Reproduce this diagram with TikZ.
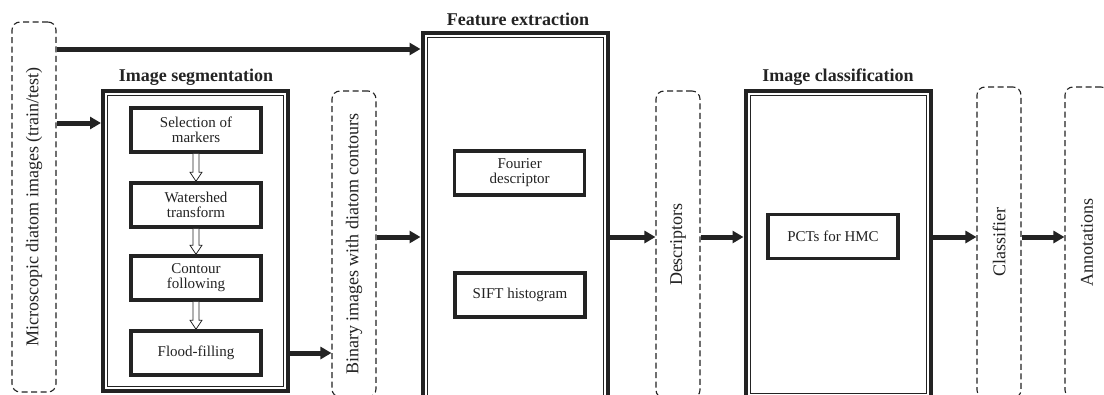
\documentclass[tikz,border=0pt]{standalone}
\usepackage{fontspec}
\setmainfont{Liberation Serif}
\usepackage{graphicx}
\usetikzlibrary{arrows.meta,calc}
\definecolor{ink}{RGB}{35,35,35}
\newcommand\hollowdown[2]{%
  \draw[hollow] ($(#1.south)+(-3pt,0pt)$) -- ($(#2.north)+(-3pt,9pt)$) -- ($(#2.north)+(-6pt,9pt)$) -- (#2.north) -- ($(#2.north)+(6pt,9pt)$) -- ($(#2.north)+(3pt,9pt)$) -- ($(#1.south)+(3pt,0pt)$);}
\newcommand\innerline[1]{%
  \draw[draw=ink, line width=0.8pt] ([shift={(6.5pt,-6.5pt)}]#1.north west) rectangle ([shift={(-6.5pt,6.5pt)}]#1.south east);}
\begin{document}
\begin{tikzpicture}[x=1pt,y=-1pt,
  stage/.style={draw=ink, line width=4pt, minimum width=185pt, inner sep=0pt},
  proc/.style={draw=ink, line width=3.5pt, minimum width=130pt, minimum height=44pt, inner sep=0pt, align=center, font=\fontsize{15}{15}\selectfont, text=ink},
  data/.style={draw=ink, line width=1.1pt, dash pattern=on 6pt off 3.5pt, rounded corners=8pt, minimum width=44pt, inner sep=0pt, font=\fontsize{18}{18}\selectfont, text=ink},
  ttl/.style={font=\bfseries\fontsize{18}{18}\selectfont, text=ink, anchor=base, inner sep=0pt},
  arr/.style={draw=ink, line width=5pt, -{Triangle[length=11pt,width=12pt]}},
  hollow/.style={draw=ink, line width=0.8pt, fill=white, line join=miter}
]
\useasboundingbox (0,0) rectangle (1104,394);
\clip (0,0) rectangle (1104,394);
\fill[white] (0,0) rectangle (1104,394);

% data (dashed) boxes
\node[data, minimum height=370pt] (A) at (34,207) {\rotatebox{90}{Microscopic diatom images (train/test)}};
\node[data, minimum height=306pt] (B) at (354,244) {\rotatebox{90}{Binary images with diatom contours}};
\node[data, minimum height=307pt] (D) at (678,244.5) {\rotatebox{90}{Descriptors}};
\node[data, minimum height=311pt] (C) at (999,242.5) {\rotatebox{90}{Classifier}};
\node[data, minimum height=311pt] (N) at (1087,242.5) {\rotatebox{90}{Annotations}};

% stage boxes
\node[stage, minimum height=300.5pt] (S) at (195.5,240.75) {};
\innerline{S}
\node[stage, minimum height=420pt] (F) at (515,243) {};
\innerline{F}
\node[stage, minimum height=307pt] (K) at (838,244) {};
\innerline{K}

% titles
\node[ttl] (tS) at (196,81) {Image segmentation};
\node[ttl] (tF) at (518,25) {Feature extraction};
\node[ttl] (tK) at (838,81) {Image classification};

% process boxes
\node[proc] (s1) at (196,130) {Selection of\\markers};
\node[proc] (s2) at (196,205) {Watershed\\transform};
\node[proc] (s3) at (196,278) {Contour\\following};
\node[proc] (s4) at (196,353) {Flood-filling};
\node[proc] (f1) at (519.7,173) {Fourier\\descriptor};
\node[proc] (f2) at (520,295) {SIFT histogram};
\node[proc] (k1) at (833,236.7) {PCTs for HMC};

\hollowdown{s1}{s2}
\hollowdown{s2}{s3}
\hollowdown{s3}{s4}

% arrows
\coordinate (yt) at (0,49);
\coordinate (ya) at (0,123);
\coordinate (ym) at (0,237);
\draw[arr] (A.east |- yt) -- (F.west |- yt);
\draw[arr] (A.east |- ya) -- (S.west |- ya);
\draw[arr] (S.east |- s4) -- (B.west |- s4);
\draw[arr] (B.east |- ym) -- (F.west |- ym);
\draw[arr] (F.east |- ym) -- (D.west |- ym);
\draw[arr] (D.east |- ym) -- (K.west |- ym);
\draw[arr] (K.east |- ym) -- (C.west |- ym);
\draw[arr] (C.east |- ym) -- (N.west |- ym);
\end{tikzpicture}
\end{document}
